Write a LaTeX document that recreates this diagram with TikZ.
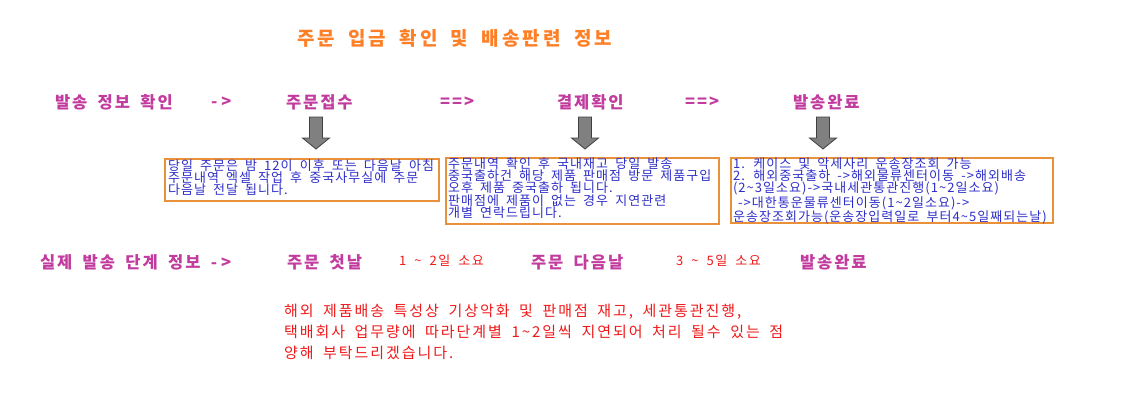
\documentclass[tikz,border=0pt]{standalone}
\usepackage{fontspec}
\setmainfont{Noto Sans CJK KR}[WordSpace=1.8]
\definecolor{ttlorange}{HTML}{FF7F27}
\definecolor{lblmag}{HTML}{C23B9E}
\definecolor{txtblue}{HTML}{2E2EC8}
\definecolor{txtred}{HTML}{F01818}
\definecolor{boxorange}{HTML}{E8913A}
\definecolor{arrfill}{HTML}{808080}
\definecolor{arrline}{HTML}{404040}
\tikzset{
  ttl/.style={text=ttlorange, font=\fontsize{19}{19}\selectfont\bfseries\addfontfeature{LetterSpace=16}, anchor=west},
  lbl/.style={text=lblmag, font=\fontsize{16.5}{17}\selectfont\bfseries\addfontfeature{LetterSpace=12}, anchor=west},
  dur/.style={text=txtred, font=\fontsize{13}{14}\selectfont\addfontfeature{LetterSpace=12}, anchor=west},
  infobox/.style={draw=boxorange, line width=1.6pt, anchor=north west, minimum width=#1},
  boxtext/.style={text=txtblue, font=\fontsize{13}{12.3}\selectfont\addfontfeature{LetterSpace=8}, align=left, anchor=north west},
  note/.style={text=txtred, font=\fontsize{15}{21}\selectfont\addfontfeature{LetterSpace=13}, align=left, anchor=north west},
  pics/downarrow/.style={code={
    \draw[fill=arrfill, draw=arrline, line width=0.8pt]
      (-6.5,0) -- (6.5,0) -- (6.5,21) -- (13.5,21) -- (0,32) -- (-13.5,21) -- (-6.5,21) -- cycle;
  }}
}
\begin{document}
\begin{tikzpicture}[x=1pt,y=-1pt, every node/.style={inner sep=0pt, outer sep=0pt}]
\useasboundingbox (0,0) rectangle (1129,402);
\node[ttl] (title) at (297,38) {주문 입금 확인 및 배송판련 정보};
% row 1
\node[lbl] (r1a) at (55,102) {발송 정보 확인};
\node[lbl] (r1b) at (211,102) {-\kern4pt>};
\node[lbl] (r1c) at (286,102) {주문접수};
\node[lbl] (r1d) at (440,102) {=\kern2pt=\kern2pt>};
\node[lbl] (r1e) at (557,102) {결제확인};
\node[lbl] (r1f) at (685,102) {=\kern2pt=\kern2pt>};
\node[lbl] (r1g) at (793,102) {발송완료};
% arrows
\pic (a1) at (316,117) {downarrow};
\pic (a2) at (585,117) {downarrow};
\pic (a3) at (823,117) {downarrow};
% boxes
\node[infobox=274pt, minimum height=42pt] (b1) at (165,159) {};
\node[infobox=273pt, minimum height=66pt] (b2) at (446,158) {};
\node[infobox=322pt, minimum height=65pt] (b3) at (731,158) {};
\node[boxtext] (t1) at ([shift={(3,0.5)}]b1.north west) {당일 주문은 밤 12이 이후 또는 다음날 아침\\주문내역 엑셀 작업 후 중국사무실에 주문\\다음날 전달 됩니다.};
\node[boxtext] (t2) at ([shift={(2,-0.5)}]b2.north west) {주문내역 확인 후 국내재고 당일 발송\\중국출하건 해당 제품 판매점 방문 제품구입\\오후 제품 중국출하 됩니다.\\판매점에 제품이 없는 경우 지연관련\\개별 연락드립니다.};
\node[boxtext] (t3) at ([shift={(2,-0.5)}]b3.north west) {1. 케이스 및 악세사리 운송장조회 가능\\2. 해외중국출하 ->해외물류센터이동 ->해외배송\\(2\textasciitilde3일소요)->국내세관통관진행(1\textasciitilde2일소요)\\\hspace*{5pt}->대한통운물류센터이동(1\textasciitilde2일소요)->\\운송장조회가능(운송장입력일로 부터4\textasciitilde5일째되는날)};
% row 2
\node[lbl] (r2a) at (40,262) {실제 발송 단계 정보 -\kern4pt>};
\node[lbl] (r2b) at (287,262) {주문 첫날};
\node[dur] (r2c) at (399,261) {1 \textasciitilde{} 2일 소요};
\node[lbl] (r2d) at (531,262) {주문 다음날};
\node[dur] (r2e) at (676,261) {3 \textasciitilde{} 5일 소요};
\node[lbl] (r2f) at (800,262) {발송완료};
% note
\node[note] (n1) at (284,304) {해외 제품배송 특성상 기상악화 및 판매점 재고, 세관통관진행,\\택배회사 업무량에 따라단계별 1\textasciitilde2일씩 지연되어 처리 될수 있는 점\\양해 부탁드리겠습니다.};
\end{tikzpicture}
\end{document}
